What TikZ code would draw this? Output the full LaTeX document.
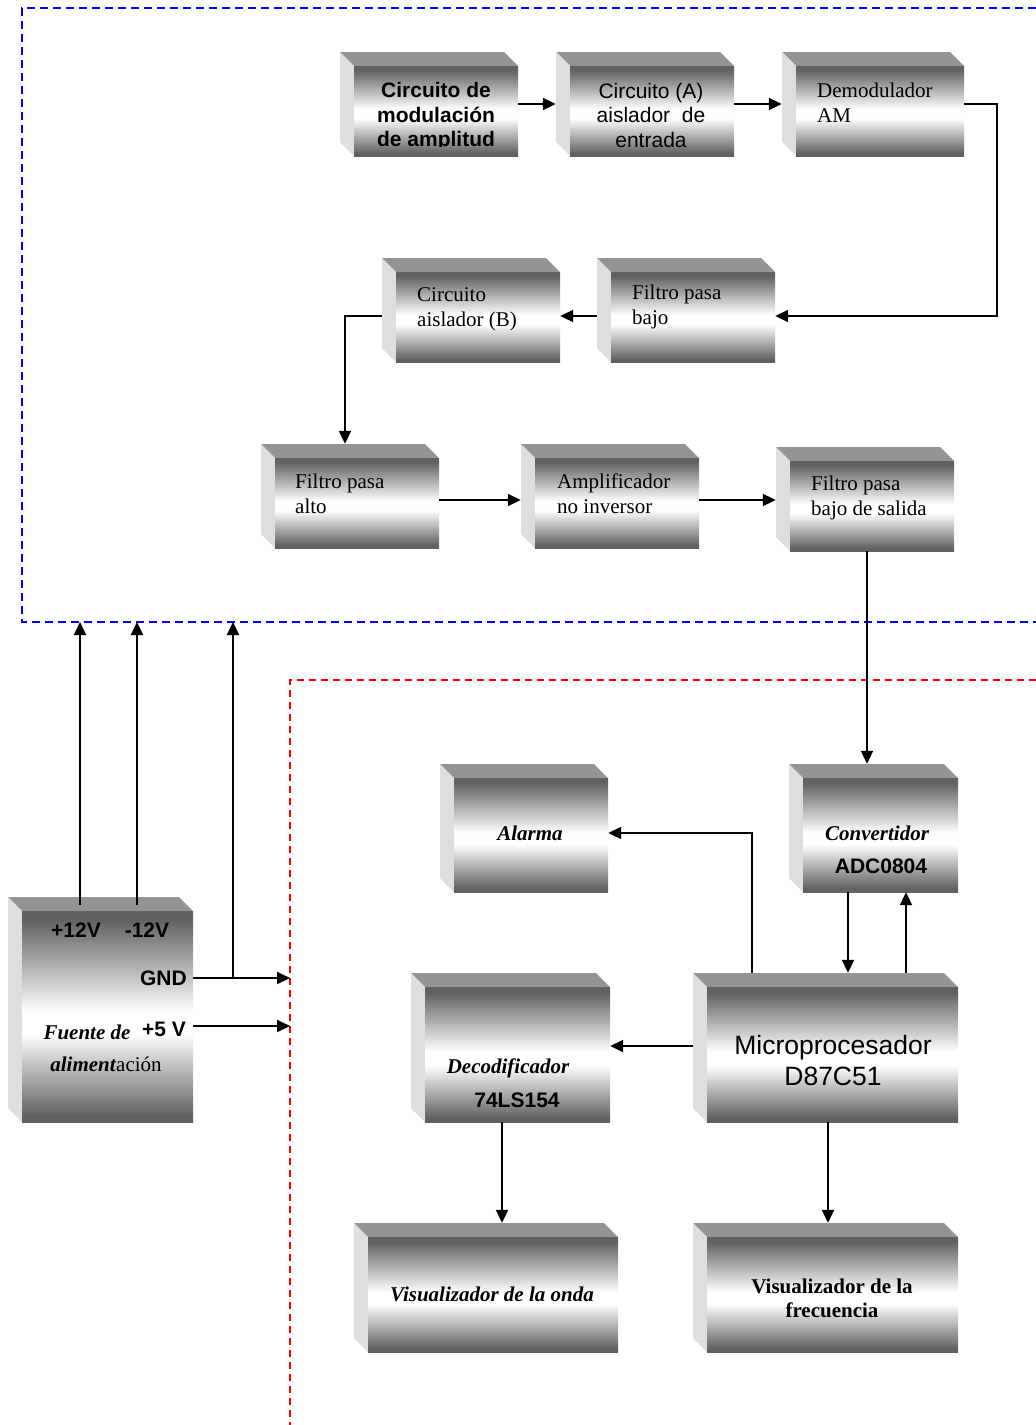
\documentclass[tikz,border=0pt]{standalone}
\usepackage{fontspec}
\setmainfont{Liberation Serif}
\setsansfont{Liberation Sans}
\usetikzlibrary{arrows.meta,fit,calc}
\definecolor{dk}{gray}{0.38}
\definecolor{topcol}{gray}{0.58}
\definecolor{leftcol}{gray}{0.87}
\pgfdeclareverticalshading{boxshade}{100bp}{color(0bp)=(dk); color(26.5bp)=(dk); color(46bp)=(white); color(51bp)=(white); color(73bp)=(dk); color(100bp)=(dk)}
\newcommand\cubo[5]{%
  \fill[topcol] (#2,#3) -- ({#4-14},#3) -- (#4,{#3+14}) -- ({#2+14},{#3+14}) -- cycle;
  \fill[leftcol] (#2,#3) -- ({#2+14},{#3+14}) -- ({#2+14},#5) -- (#2,{#5-14}) -- cycle;
  \shade[shading=boxshade] ({#2+14},{#3+14}) rectangle (#4,#5);
  \path (#2,#3) coordinate (#1-a) (#4,#5) coordinate (#1-b);
  \node[fit=(#1-a)(#1-b), inner sep=0pt] (#1) {};
}
\tikzset{
  conn/.style={line width=2pt, -{Triangle[length=13pt,width=12pt]}},
  bluedash/.style={draw=blue, line width=2pt, dash pattern=on 8pt off 5pt},
  reddash/.style={draw=red, line width=2pt, dash pattern=on 7pt off 5pt},
  sr/.style={font=\fontsize{21}{25}\selectfont, inner sep=0pt, align=left, anchor=west},
  sbi/.style={font=\fontsize{21}{32}\selectfont\bfseries\itshape, inner sep=0pt},
  ssb/.style={font=\fontsize{21}{25}\sffamily\bfseries\selectfont, inner sep=0pt},
}
\begin{document}
\begin{tikzpicture}[x=1pt,y=-1pt]
\useasboundingbox (0,0) rectangle (1036,1425);
\fill[white] (0,0) rectangle (1036,1425);
% dashed regions
\draw[bluedash] (1036,8) -- (22,8) -- (22,622) -- (1036,622);
\draw[reddash] (1036,680) -- (290,680) -- (290,1425);
\coordinate (bluebot) at (22,622);
\coordinate (redleft) at (290,680);
% boxes
\cubo{b1}{340}{52}{518}{156}
\cubo{b2}{556}{52}{734}{156}
\cubo{b3}{782}{52}{964}{156}
\cubo{b4}{382}{258}{560}{362}
\cubo{b5}{597}{258}{775}{362}
\cubo{b6}{261}{444}{439}{548}
\cubo{b7}{521}{444}{699}{548}
\cubo{b8}{776}{447}{954}{551}
\cubo{alarm}{440}{764}{608}{892}
\cubo{conv}{789}{764}{958}{892}
\cubo{dec}{411}{973}{610}{1122}
\cubo{micro}{693}{973}{958}{1122}
\cubo{fu}{8}{897}{193}{1122}
\cubo{vis1}{354}{1223}{618}{1352}
\cubo{vis2}{693}{1223}{958}{1352}
% texts
\begin{scope}
\clip (354,66) rectangle (518,146);
\node[font=\fontsize{21}{24.5}\sffamily\bfseries\selectfont, align=center, inner sep=0pt] (t1) at (436,117) {Circuito de\\modulación\\de amplitud};
\end{scope}
\begin{scope}
\clip (570,66) rectangle (734,147);
\node[font=\fontsize{21}{24.5}\sffamily\selectfont, align=center, inner sep=0pt] (t2) at (651,115) {Circuito (A)\\aislador\ \ de\\entrada};
\end{scope}
\node[sr] (t3) at (817,103) {Demodulador\\AM};
\node[sr] (t4) at (417,309) {Circuito\\aislador (B)};
\node[sr] (t5) at (632,307) {Filtro pasa\\bajo};
\node[sr] (t6) at (295,494) {Filtro pasa\\alto};
\node[sr] (t7) at (557,494) {Amplificador\\no inversor};
\node[sr] (t8) at (811,498) {Filtro pasa\\bajo de salida};
\node[sbi] (t9) at (530,833) {Alarma};
\node[sbi] (t10) at (877,833) {Convertidor};
\node[ssb] (t11) at (881,866) {ADC0804};
\node[sbi] (t12) at (508,1068) {Decodificador};
\node[ssb] (t13) at (517,1100) {74LS154};
\node[font=\fontsize{26.5}{31}\sffamily\selectfont, align=center, inner sep=0pt] (t14) at (833,1061) {Microprocesador\\D87C51};
\node[ssb] (t15) at (76,930) {+12V};
\node[ssb] (t16) at (147,930) {-12V};
\node[ssb, anchor=east] (t17) at (187,978) {GND};
\node[ssb, anchor=east] (t18) at (186,1029) {+5 V};
\node[sbi] (t19) at (87,1032) {Fuente de};
\node[font=\fontsize{21}{25}\selectfont, inner sep=0pt] (t20) at (106,1064) {\textbf{\textit{aliment}}ación};
\node[sbi] (t21) at (492,1294) {Visualizador de la onda};
\node[font=\fontsize{21}{24}\selectfont\bfseries, align=center, inner sep=0pt] (t22) at (832,1298) {Visualizador de la\\frecuencia};
% connectors
\draw[conn] (b1.east) -- (b2.west);
\draw[conn] (b2.east) -- (b3.west);
\draw[conn] (b3.east) -- ++(33,0) |- (b5.east |- 0,316);
\draw[conn] (b5.west |- 0,316) -- (b4.east |- 0,316);
\draw[conn] (b4.west |- 0,316) -| (b6.north -| 345,0);
\draw[conn] (b6.east |- 0,500) -- (b7.west |- 0,500);
\draw[conn] (b7.east |- 0,500) -- (b8.west |- 0,500);
\draw[conn] (b8.south -| 867,0) -- (conv.north -| 867,0);
\draw[conn] (conv.south -| 848,0) -- (micro.north -| 848,0);
\draw[conn] (micro.north -| 906,0) -- (conv.south -| 906,0);
\draw[conn] (micro.north -| 752,0) |- (alarm.east |- 0,833);
\draw[conn] (micro.west |- 0,1046) -- (dec.east |- 0,1046);
\draw[conn] (dec.south -| 502,0) -- (vis1.north -| 502,0);
\draw[conn] (micro.south -| 828,0) -- (vis2.north -| 828,0);
\draw[conn] ($(fu.north -| 80,0)+(0,8)$) -- (bluebot -| 80,0);
\draw[conn] ($(fu.north -| 137,0)+(0,8)$) -- (bluebot -| 137,0);
\coordinate (gndj) at (233,978);
\draw[conn] (fu.east |- 0,978) -- (redleft |- 0,978);
\draw[conn] (gndj) -- (bluebot -| gndj);
\draw[conn] (fu.east |- 0,1026) -- (redleft |- 0,1026);
\end{tikzpicture}
\end{document}
